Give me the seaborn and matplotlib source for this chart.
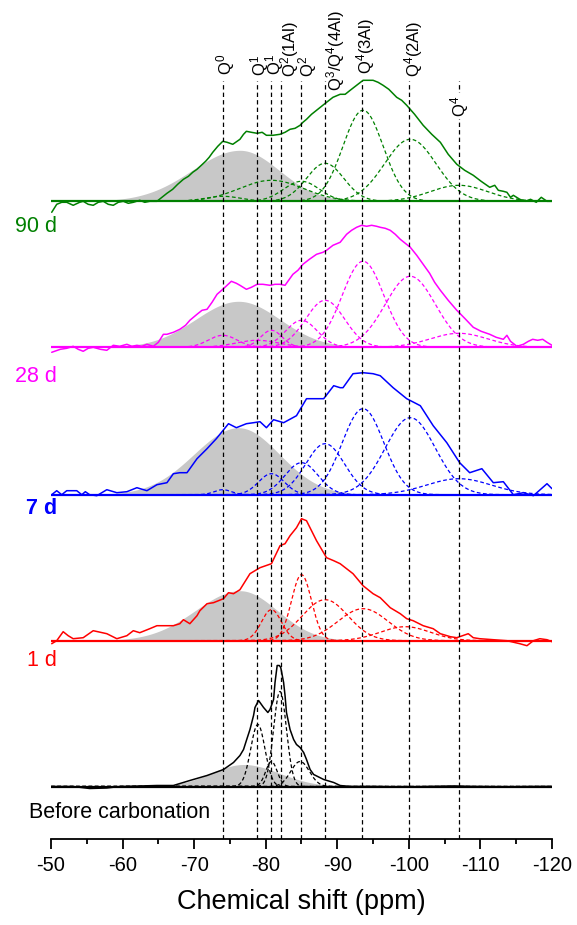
import numpy as np
import pandas as pd
import matplotlib
matplotlib.use("Agg")
import matplotlib.pyplot as plt
from matplotlib.ticker import MultipleLocator
import seaborn as sns

# ---------------- data ----------------
# 29Si NMR spectra (chemical shift in ppm, intensity in arbitrary units)
spec_90d = [(-50.1, -11), (-50.8, -3), (-51.5, -1), (-52.2, -1), (-53.1, -4), (-54.0, -1), (-54.5, 0),
            (-55.2, -3), (-55.9, -4), (-56.6, -1), (-57.3, 0), (-58.0, -3), (-58.7, -4), (-59.4, -1),
            (-60.1, 0), (-60.8, -2), (-61.5, -1), (-62.4, 1), (-63.1, -1), (-63.8, 0), (-64.8, 0),
            (-65.5, 4), (-66.2, 8), (-67.0, 12), (-67.7, 17), (-68.5, 22), (-69.2, 25), (-69.8, 29),
            (-70.4, 32), (-71.0, 36), (-71.6, 40), (-72.1, 44), (-72.6, 49), (-73.3, 55), (-74.0, 60),
            (-74.6, 59), (-75.4, 57), (-76.0, 60), (-76.4, 62), (-76.9, 67), (-77.3, 70), (-78.0, 69),
            (-78.8, 68), (-79.5, 69), (-80.1, 66), (-81.0, 66), (-82.0, 67), (-82.7, 69), (-83.4, 72),
            (-84.1, 73), (-84.8, 76), (-85.2, 79), (-85.7, 82), (-86.4, 87), (-87.1, 91), (-87.8, 95),
            (-88.5, 99), (-89.4, 104), (-90.4, 107), (-91.1, 107), (-91.8, 111), (-92.7, 116),
            (-93.6, 121), (-94.3, 121), (-95.0, 121), (-95.7, 119), (-96.4, 116), (-97.2, 112),
            (-98.3, 104), (-99.0, 101), (-99.7, 96), (-100.8, 87), (-102.0, 76), (-103.2, 67),
            (-104.4, 59), (-105.5, 47), (-106.7, 37), (-107.8, 31), (-109.0, 26), (-110.1, 20),
            (-111.3, 14), (-112.0, 16), (-112.5, 11), (-113.2, 10), (-113.7, 9), (-114.2, 4),
            (-114.6, 6), (-115.5, 2), (-116.3, 0), (-117.0, 2), (-117.8, -1), (-118.5, 4),
            (-119.3, 0), (-120.0, 0)]

spec_28d = [(-50.1, -5), (-51.3, -2), (-52.2, -1), (-53.1, 1), (-53.8, -2), (-54.5, -4), (-55.2, -1),
            (-55.9, 0), (-56.9, -2), (-57.8, -3), (-58.7, 2), (-59.6, 1), (-60.6, 3), (-61.3, 1),
            (-62.0, 2), (-62.7, 1), (-63.4, 3), (-64.3, 1), (-65.0, 5), (-65.7, 13), (-66.2, 13),
            (-67.1, 15), (-68.0, 18), (-68.8, 22), (-69.4, 27), (-70.4, 33), (-71.1, 37), (-71.8, 38),
            (-72.5, 45), (-73.2, 53), (-74.0, 58), (-74.6, 62), (-75.2, 66), (-75.9, 64), (-76.4, 62),
            (-77.3, 58), (-78.0, 60), (-78.8, 63), (-79.6, 63), (-80.6, 62), (-81.3, 63), (-82.0, 63),
            (-82.7, 62), (-83.2, 67), (-83.8, 73), (-84.5, 77), (-85.2, 83), (-86.1, 88), (-87.1, 93),
            (-88.0, 95), (-88.5, 97), (-89.4, 102), (-90.4, 105), (-91.3, 113), (-92.0, 117),
            (-92.7, 120), (-93.4, 122), (-94.1, 121), (-94.8, 122), (-95.5, 121), (-96.0, 120),
            (-96.7, 119), (-97.4, 117), (-98.1, 113), (-98.8, 108), (-99.5, 104), (-100.2, 100),
            (-101.1, 92), (-102.0, 83), (-102.9, 74), (-103.6, 65), (-104.4, 57), (-105.5, 47),
            (-106.7, 37), (-107.8, 29), (-109.0, 20), (-110.1, 16), (-111.3, 13), (-112.2, 10),
            (-113.2, 8), (-113.7, 12), (-114.2, 6), (-115.1, 1), (-116.0, 3), (-116.7, 6),
            (-117.3, 8), (-118.0, 7), (-118.7, 8), (-119.3, 5), (-120.0, 2)]

spec_7d = [(-50.1, 0), (-50.8, 4), (-51.5, 0), (-52.2, 4), (-53.6, 4), (-54.3, 0), (-54.8, 3),
           (-55.4, 0), (-56.4, -1), (-57.8, 5), (-59.2, 2), (-60.6, 3), (-62.0, 7), (-63.4, 4),
           (-64.8, 10), (-66.2, 12), (-67.1, 21), (-68.0, 22), (-69.0, 22), (-70.4, 36), (-71.8, 46),
           (-73.1, 56), (-74.8, 71), (-75.9, 67), (-77.3, 71), (-78.3, 72), (-79.2, 73), (-80.1, 67),
           (-81.1, 75), (-82.5, 72), (-84.3, 79), (-85.7, 96), (-86.7, 96), (-88.1, 96), (-89.5, 109),
           (-90.4, 107), (-90.8, 107), (-92.2, 121), (-93.6, 122), (-95.0, 121), (-96.0, 119),
           (-97.8, 107), (-99.7, 96), (-101.6, 89), (-103.4, 69), (-105.3, 52), (-107.1, 32),
           (-108.5, 22), (-110.2, 26), (-111.8, 12), (-113.2, 13), (-114.6, 0), (-116.0, 2),
           (-117.4, -1), (-119.3, 11), (-120.0, 6)]

spec_1d = [(-50.1, -3), (-50.8, 0), (-51.7, 9), (-52.4, 5), (-53.1, 2), (-54.5, 3), (-55.9, 10),
           (-57.8, 7), (-59.2, 2), (-60.6, 5), (-61.5, 10), (-62.4, 8), (-63.8, 12), (-64.8, 15),
           (-66.2, 15), (-67.1, 15), (-68.0, 17), (-68.5, 21), (-69.4, 17), (-70.4, 25), (-70.8, 30),
           (-71.8, 37), (-72.7, 38), (-74.1, 42), (-74.8, 48), (-75.5, 47), (-76.4, 51), (-77.8, 67),
           (-79.2, 73), (-80.8, 77), (-82.0, 95), (-82.7, 97), (-83.4, 105), (-84.3, 113),
           (-85.0, 122), (-85.7, 120), (-87.1, 100), (-88.5, 83), (-89.5, 80), (-90.4, 77),
           (-91.3, 72), (-92.2, 67), (-93.6, 55), (-95.0, 47), (-96.0, 43), (-97.4, 33), (-98.8, 27),
           (-99.7, 22), (-100.6, 20), (-102.0, 15), (-103.4, 12), (-104.4, 7), (-105.8, 4),
           (-106.7, 3), (-108.3, 7), (-109.0, 3), (-109.9, 2), (-113.7, 0), (-115.5, -3),
           (-116.5, -5), (-117.4, 0), (-118.3, 2), (-119.3, 1), (-120.0, -1)]

spec_0d = [(-50.1, 0), (-53.1, 0), (-55.4, -2), (-57.8, -1.5), (-59.6, 0), (-62.4, 0.5), (-64.8, 1),
           (-67.1, 1), (-69.4, 6), (-71.8, 11), (-74.1, 17), (-75.5, 24), (-76.4, 31), (-76.9, 37),
           (-77.3, 46), (-77.8, 57), (-78.3, 71), (-78.5, 79), (-79.0, 86), (-79.4, 82), (-79.7, 79),
           (-80.3, 74), (-80.6, 77), (-81.1, 87), (-81.3, 104), (-81.6, 121), (-81.9, 121),
           (-82.1, 119), (-82.5, 104), (-82.7, 91), (-82.9, 74), (-83.4, 57), (-83.9, 47),
           (-84.3, 42), (-84.8, 39), (-85.3, 34), (-85.7, 27), (-86.2, 17), (-86.7, 12), (-88.1, 7),
           (-89.5, 4), (-90.4, 1), (-91.8, 0), (-95.0, 0), (-99.7, -0.5), (-106.2, 0.5),
           (-109.0, 0), (-113.7, -0.3), (-118.3, 0), (-120.0, 0)]

# fitted Gaussian components: centre (ppm), height, sigma (ppm)
fit_90d = ([-74.0, -80.8, -85.0, -88.3, -93.6, -100.2, -107.0],
           [5, 21, 20, 38, 91, 62, 16],
           [2.5, 4.5, 2.5, 2.6, 2.8, 3.6, 4.0])
fit_28d = ([-74.0, -78.8, -80.8, -85.0, -88.3, -93.6, -100.2, -107.0],
           [12, 7, 17, 27, 47, 86, 71, 14],
           [2.0, 3.0, 1.5, 2.2, 2.7, 2.9, 3.5, 4.0])
fit_7d = ([-74.0, -80.8, -85.0, -88.3, -93.6, -100.2, -107.0],
          [5, 21, 32, 51, 86, 77, 16],
          [1.2, 1.8, 2.3, 2.7, 2.9, 3.5, 4.5])
fit_1d = ([-80.8, -85.0, -88.3, -93.6, -99.5],
          [31, 66, 41, 32, 14],
          [1.4, 1.4, 3.2, 3.5, 3.5])
fit_0d = ([-78.9, -80.8, -82.0, -84.8],
          [62, 25, 95, 25],
          [1.0, 0.8, 0.9, 1.3])

# broad (shaded) component: centre, height, sigma low-field side, sigma high-field side
broad_90d = (-76.4, 51, 6.7, 5.5)
broad_28d = (-76.2, 46, 6.0, 5.8)
broad_7d = (-76.2, 67, 6.2, 5.7)
broad_1d = (-76.4, 50, 6.2, 5.2)
broad_0d = (-76.9, 22, 4.5, 5.0)

sample_names = ["90 d", "28 d", "7 d", "1 d", "Before carbonation"]

# assignment lines
site_shifts = [-74.0, -78.8, -80.8, -82.1, -85.0, -88.3, -93.4, -100.0, -107.0]
site_labels = ["Q$^0$", "Q$^1$", "Q$^1$", "Q$^2$(1Al)", "Q$^2$", "Q$^3$/Q$^4$(4Al)",
               "Q$^4$(3Al)", "Q$^4$(2Al)", "Q$^4$"]

# ---------------- styling / layout ----------------
sns.set_theme(style="white")
plt.rcParams["font.family"] = ["Liberation Sans", "DejaVu Sans"]
plt.rcParams["mathtext.default"] = "regular"
plt.rcParams["axes.unicode_minus"] = False
plt.rcParams["text.color"] = "black"
plt.rcParams["axes.labelcolor"] = "black"
plt.rcParams["xtick.color"] = "black"
plt.rcParams["xtick.labelcolor"] = "black"

colors = ["#008000", "#FF00FF", "#0000FF", "#FF0000", "#000000"]
offsets = [637.7, 491.7, 344.3, 198.3, 52.5]
name_y = [613, 463, 330, 178, 26]
spectra = [spec_90d, spec_28d, spec_7d, spec_1d, spec_0d]
fits = [fit_90d, fit_28d, fit_7d, fit_1d, fit_0d]
broads = [broad_90d, broad_28d, broad_7d, broad_1d, broad_0d]

label_x = [-74.41, -79.1, -81.3, -83.4, -85.8, -89.82, -94.01, -100.72, -107.15]
label_y = [764, 763, 764, 762, 762, 748, 765, 762, 733]
line_top = 758

fig = plt.figure(figsize=(5.77, 9.25), dpi=100)
ax = fig.add_axes([51 / 577, 86 / 925, 501 / 577, 839 / 925])

grid = np.linspace(-50, -120, 1401)

for spec, fit, broad, off, col in zip(spectra, fits, broads, offsets, colors):
    # shaded broad component
    c0, h0, sl, sr = broad
    sig = np.where(grid > c0, sl, sr)
    g = h0 * np.exp(-(grid - c0) ** 2 / (2 * sig ** 2))
    ax.fill_between(grid, off, off + g, color="#C8C8C8", lw=0, zorder=1)

    # dashed Gaussian components
    for c, h, s in zip(*fit):
        comp = h * np.exp(-(grid - c) ** 2 / (2 * s ** 2))
        ax.plot(grid, off + comp, color=col, lw=0.9, ls=(0, (3, 2)), zorder=2)

    # baseline
    ax.plot([-50, -120], [off, off], color=col, lw=1.6, zorder=2.5)

    # measured spectrum
    df = pd.DataFrame(spec, columns=["shift", "intensity"])
    df["y"] = df["intensity"] + off
    sns.lineplot(data=df, x="shift", y="y", ax=ax, color=col, lw=1.1,
                 sort=False, estimator=None, zorder=3)

# assignment lines and labels
ax.vlines(site_shifts, 0, line_top, colors="black", lw=0.9,
          linestyles=[(0, (3.5, 2.5))], zorder=4)
for lx, ly, lab in zip(label_x, label_y, site_labels):
    if lab == "Q$^4$":
        ax.text(lx, ly, lab, rotation=90, ha="center", va="center", fontsize=12,
                zorder=6, bbox=dict(facecolor="white", edgecolor="none", pad=1.5))
    else:
        ax.text(lx, ly, lab, rotation=90, ha="center", va="bottom", fontsize=12, zorder=6)

# sample names
for name, ny, col in zip(sample_names, name_y, colors):
    if name.startswith("Before"):
        ax.text(-46.9, ny, name, ha="left", va="center", fontsize=15.5, color=col)
    else:
        ax.text(-50.84, ny, name, ha="right", va="center", fontsize=15.5, color=col,
                fontweight="bold" if name == "7 d" else "normal")

ax.set_xlim(-50, -120)
ax.set_ylim(0, 839)
ax.xaxis.set_major_locator(MultipleLocator(10))
ax.xaxis.set_minor_locator(MultipleLocator(5))
ax.set_yticks([])
ax.set_ylabel("")
ax.set_xlabel("Chemical shift (ppm)", fontsize=19.5, labelpad=10, color="black")
ax.tick_params(axis="x", which="major", direction="out", length=7, width=1.3,
               labelsize=14.5, pad=5, bottom=True, color="black", labelcolor="black")
ax.tick_params(axis="x", which="minor", direction="out", length=3.5, width=1.3,
               bottom=True, color="black")
for side in ["left", "right", "top"]:
    ax.spines[side].set_visible(False)
ax.spines["bottom"].set_color("black")
ax.spines["bottom"].set_linewidth(1.3)
ax.patch.set_alpha(0)

fig.savefig("out.png", dpi=100)
